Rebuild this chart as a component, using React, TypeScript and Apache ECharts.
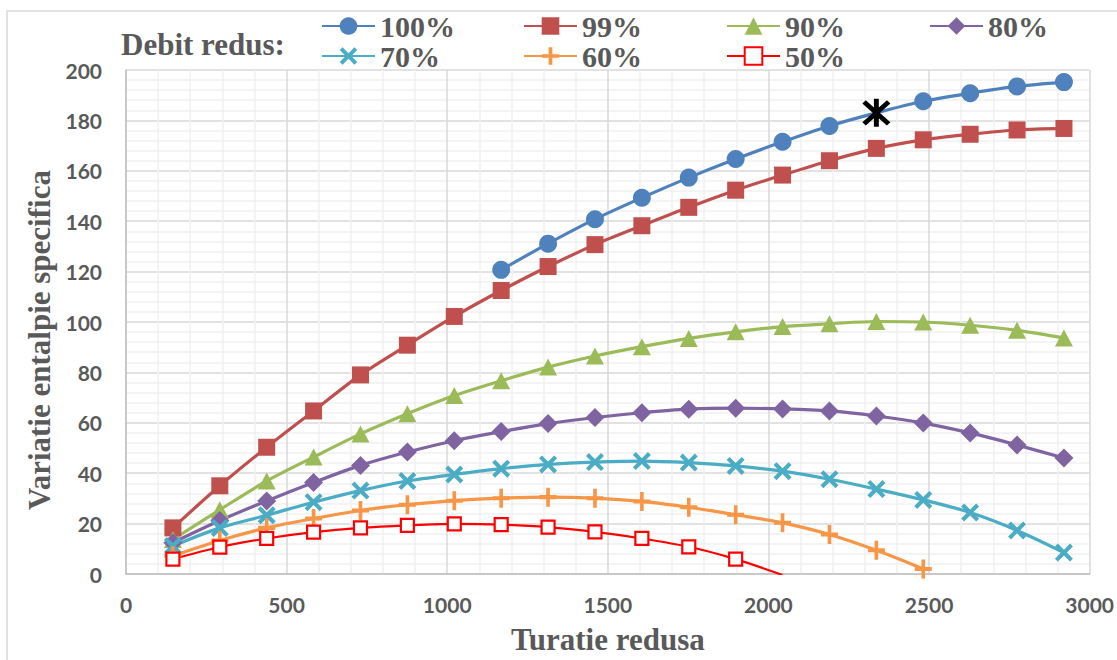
import React, { useEffect, useRef } from "react";
import * as echarts from "echarts";

// Turatie redusa (x values of all series)
const xValues = [146, 292, 438, 584, 730, 876, 1022, 1168, 1314, 1460, 1606, 1752, 1898, 2044, 2190, 2336, 2482, 2628, 2774, 2920];

// Variatie entalpie specifica, per "Debit redus"
const s100 = [null, null, null, null, null, null, null, 120.7, 131.1, 140.8, 149.3, 157.3, 164.7, 171.5, 177.8, 183.0, 187.6, 190.8, 193.5, 195.2];
const s99 = [18.3, 35.0, 50.3, 64.7, 79.0, 90.8, 102.2, 112.5, 122.0, 130.7, 138.2, 145.5, 152.3, 158.3, 164.0, 168.9, 172.3, 174.5, 176.2, 176.8];
const s90 = [13.7, 25.5, 36.9, 46.4, 55.6, 63.6, 70.8, 76.7, 82.1, 86.5, 90.2, 93.5, 96.1, 98.2, 99.3, 100.2, 100.0, 98.7, 96.7, 93.7];
const s80 = [12.4, 21.2, 29.0, 36.3, 43.1, 48.4, 52.9, 56.5, 59.7, 62.1, 64.0, 65.4, 65.8, 65.5, 64.7, 62.7, 59.9, 56.0, 51.2, 46.0];
const s70 = [11.1, 18.3, 23.3, 28.5, 33.1, 36.9, 39.5, 41.8, 43.5, 44.4, 44.8, 44.2, 42.9, 40.8, 37.6, 33.7, 29.4, 24.4, 17.3, 8.5];
const s60 = [7.2, 13.3, 18.3, 22.0, 25.2, 27.5, 29.1, 30.1, 30.5, 30.1, 28.8, 26.5, 23.5, 20.3, 15.7, 9.4, 2.0];
const s50 = [5.9, 10.7, 14.1, 16.6, 18.3, 19.3, 19.9, 19.6, 18.6, 16.7, 14.1, 10.8, 5.9, -0.4];

const seriesNames = ["100%", "99%", "90%", "80%", "70%", "60%", "50%"];
// legend layout: [row, column] of each series name
const legendSlots: [number, number][] = [[0, 0], [0, 1], [0, 2], [0, 3], [1, 0], [1, 1], [1, 2]];
const markedX = 2336; // point of 100% drawn with an asterisk

const xTicks = { min: 0, max: 3000, interval: 500 };
const yTicks = { min: 0, max: 200, interval: 20 };

const X_PATH =
  "path://M0 2.6L2.6 0L8 5.4L13.4 0L16 2.6L10.6 8L16 13.4L13.4 16L8 10.6L2.6 16L0 13.4L5.4 8Z";
const PLUS_PATH =
  "path://M6.3 0L9.7 0L9.7 6.3L16 6.3L16 9.7L9.7 9.7L9.7 16L6.3 16L6.3 9.7L0 9.7L0 6.3L6.3 6.3Z";
const STAR_PATH =
  "path://M11.8 0L16.2 0L16.2 28L11.8 28Z M4.55 1.45L26.55 23.45L23.45 26.55L1.45 4.55Z M26.55 4.55L4.55 26.55L1.45 23.45L23.45 1.45Z";

function toPairs(vals: (number | null)[]) {
  const out: any[] = [];
  vals.forEach((v, i) => {
    if (v === null || v === undefined) return;
    out.push([xValues[i], v]);
  });
  return out;
}

export default function App() {
  const ref = useRef<HTMLDivElement>(null);

  useEffect(() => {
    if (!ref.current) return;
    const chart = echarts.init(ref.current, null, { renderer: "svg" });

    const serif = "'Liberation Serif', 'Times New Roman', serif";
    const sans = "Lato, 'Open Sans', sans-serif";
    const gray = "#595959";

    const base = {
      type: "line",
      smooth: 0.3,
      clip: true,
      showAllSymbol: true,
    };

    const data100 = toPairs(s100).map((p: any) =>
      p[0] === markedX
        ? {
            value: p,
            symbol: STAR_PATH,
            symbolSize: [28, 28],
            itemStyle: { color: "#000000" },
          }
        : p
    );

    const colLeft = [316, 518, 721, 924];
    const rowTop = [6, 36];
    const legends = seriesNames.map((name, i) => ({
      data: [name],
      left: colLeft[legendSlots[i][1]],
      top: rowTop[legendSlots[i][0]],
      itemWidth: 53,
      itemHeight: 22,
      textStyle: {
        fontFamily: serif,
        fontWeight: "bold",
        fontSize: 30,
        lineHeight: 30,
        color: gray,
      },
    }));

    const option: any = {
      animation: false,
      backgroundColor: "#ffffff",
      graphic: [
        {
          type: "rect",
          shape: { x: 7, y: 11, width: 1200, height: 700 },
          style: { fill: "none", stroke: "#D9D9D9", lineWidth: 1.5 },
          silent: true,
        },
        {
          type: "text",
          left: 121,
          top: 29,
          style: {
            text: "Debit redus:",
            font: `bold 31px ${serif}`,
            fill: gray,
          },
        },
      ],
      legend: legends,
      grid: { left: 126, right: 26, top: 70, bottom: 80, containLabel: false },
      xAxis: {
        type: "value",
        min: xTicks.min,
        max: xTicks.max,
        interval: xTicks.interval,
        name: "Turatie redusa",
        nameLocation: "middle",
        nameGap: 50,
        nameTextStyle: { fontFamily: serif, fontWeight: "bold", fontSize: 31, color: gray },
        axisLine: { show: true, lineStyle: { color: "#BFBFBF", width: 1.5 } },
        axisTick: { show: false },
        axisLabel: {
          margin: 20,
          fontFamily: sans,
          fontWeight: "bold",
          fontSize: 21,
          color: gray,
          formatter: (v: number) => String(v),
        },
        splitLine: { show: true, lineStyle: { color: "#D9D9D9", width: 1.5 } },
        minorTick: { show: false, splitNumber: 5 },
        minorSplitLine: { show: true, lineStyle: { color: "#F0F0F0", width: 1.5 } },
      },
      yAxis: {
        type: "value",
        min: yTicks.min,
        max: yTicks.max,
        interval: yTicks.interval,
        name: "Variatie entalpie specifica",
        nameLocation: "middle",
        nameGap: 64,
        nameTextStyle: {
          fontFamily: serif,
          fontWeight: "bold",
          fontSize: 31,
          color: gray,
          padding: [0, 36, 0, 0],
        },
        axisLine: { show: true, lineStyle: { color: "#BFBFBF", width: 1.5 } },
        axisTick: { show: false },
        axisLabel: {
          margin: 24,
          fontFamily: sans,
          fontWeight: "bold",
          fontSize: 21,
          color: gray,
          formatter: (v: number) => String(v),
        },
        splitLine: { show: true, lineStyle: { color: "#D9D9D9", width: 1.5 } },
        minorTick: { show: false, splitNumber: 5 },
        minorSplitLine: { show: true, lineStyle: { color: "#F0F0F0", width: 1.5 } },
      },
      series: [
        {
          ...base,
          name: seriesNames[0],
          data: data100,
          symbol: "circle",
          symbolSize: 18,
          color: "#4F81BD",
          lineStyle: { width: 3.2, color: "#4F81BD" },
          itemStyle: { color: "#4F81BD" },
        },
        {
          ...base,
          name: seriesNames[1],
          data: toPairs(s99),
          symbol: "rect",
          symbolSize: 17,
          color: "#C0504D",
          lineStyle: { width: 3.2, color: "#C0504D" },
          itemStyle: { color: "#C0504D" },
        },
        {
          ...base,
          name: seriesNames[2],
          data: toPairs(s90),
          symbol: "triangle",
          symbolSize: [18, 17],
          color: "#9BBB59",
          lineStyle: { width: 3.2, color: "#9BBB59" },
          itemStyle: { color: "#9BBB59" },
        },
        {
          ...base,
          name: seriesNames[3],
          data: toPairs(s80),
          symbol: "diamond",
          symbolSize: [19, 19],
          color: "#8064A2",
          lineStyle: { width: 3.2, color: "#8064A2" },
          itemStyle: { color: "#8064A2" },
        },
        {
          ...base,
          name: seriesNames[4],
          data: toPairs(s70),
          symbol: X_PATH,
          symbolSize: 18,
          color: "#4BACC6",
          lineStyle: { width: 3.2, color: "#4BACC6" },
          itemStyle: { color: "#4BACC6" },
        },
        {
          ...base,
          name: seriesNames[5],
          data: toPairs(s60),
          symbol: PLUS_PATH,
          symbolSize: [17, 19],
          color: "#F79646",
          lineStyle: { width: 3.2, color: "#F79646" },
          itemStyle: { color: "#F79646" },
        },
        {
          ...base,
          name: seriesNames[6],
          data: toPairs(s50),
          symbol: "rect",
          symbolSize: 13,
          color: "#FF0000",
          lineStyle: { width: 2.2, color: "#FF0000" },
          itemStyle: { color: "#FFFFFF", borderColor: "#FF0000", borderWidth: 2.2 },
        },
      ],
    };

    chart.setOption(option);
    return () => {
      chart.dispose();
    };
  }, []);

  return (
    <div
      ref={ref}
      style={{ position: "fixed", left: 0, top: 0, width: 1117, height: 660, background: "#fff" }}
    />
  );
}
